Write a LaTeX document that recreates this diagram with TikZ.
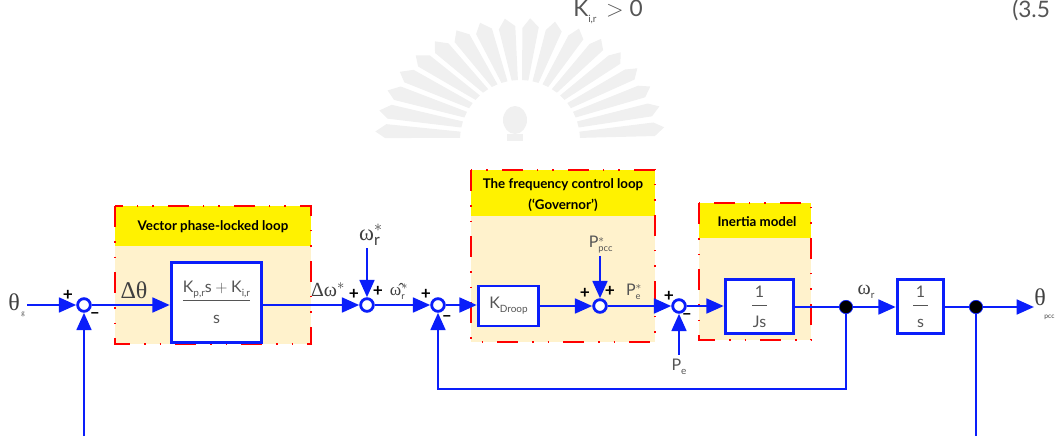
\documentclass[tikz,border=0pt]{standalone}
\usepackage{amsmath}
\usepackage{fontspec}
\setmainfont{Lato}
\newfontfamily\greekfont{Liberation Serif}
\usepackage{xcolor}
\usetikzlibrary{arrows.meta, calc}
\definecolor{flowblue}{HTML}{0A1EFA}
\definecolor{panelcream}{HTML}{FFF2CC}
\definecolor{labelgray}{HTML}{555555}
\newcommand{\subtiny}[1]{\raisebox{-0.5ex}{\fontsize{7.5}{8}\selectfont\rmfamily #1}}
\newcommand{\starsub}[1]{$^{*}_{\text{\fontsize{7}{8}\selectfont\rmfamily #1}}$}
\tikzset{
    flow/.style={draw=flowblue, line width=2.1pt, -{Triangle[length=13pt, width=11pt]}},
    wire/.style={draw=flowblue, line width=2.1pt},
    sumpoint/.style={circle, draw=flowblue, fill=white, line width=2.1pt, minimum size=9.5pt, inner sep=0pt},
    tappoint/.style={circle, draw=flowblue, fill=black, line width=0.5pt, minimum size=10pt, inner sep=0pt},
    blockbox/.style={draw=flowblue, fill=white, line width=2.1pt, inner sep=0pt, text=labelgray, font=\fontsize{12}{14}\selectfont},
    panelline/.style={draw=red, line width=1.9pt, dash pattern=on 16pt off 10.5pt on 1pt off 10.5pt on 1pt off 10.5pt},
    paneltitle/.style={inner sep=0pt, align=center, font=\fontsize{10}{16}\selectfont\bfseries},
    signmark/.style={inner sep=0pt, font=\fontsize{13}{13}\selectfont\bfseries},
    tag/.style={inner sep=0pt, text=labelgray, font=\fontsize{12}{14}\selectfont},
    bigtag/.style={inner sep=0pt, text=black!75, font=\fontsize{18}{20}\selectfont\greekfont},
    midtag/.style={inner sep=0pt, text=black!75, font=\fontsize{15}{17}\selectfont\greekfont},
    crest/.style={fill=black!6},
}
\begin{document}
\begin{tikzpicture}[x=0.75pt, y=-0.75pt]
    \useasboundingbox (0,0) rectangle (1057,436);

    % 1. Faint crest behind the top of the page
    \coordinate (W) at (520,140);
    \begin{scope}
        \clip (350,0) rectangle (690,141);
        \foreach \ang in {185,195,...,355} {
            \fill[crest] ($(W)+(\ang-3:60)$) -- ($(W)+(\ang-4:135 and 112)$) -- ($(W)+(\ang-1:145 and 122)$) -- ($(W)+(\ang+3:135 and 114)$) -- ($(W)+(\ang+3:60)$) -- cycle;
        }
        \fill[crest] (515,120) ellipse (12 and 14);
        \fill[crest] (507,134) rectangle (523,141);
    \end{scope}

    % 2. Text line above the diagram
    \node[tag, font=\fontsize{17}{19}\selectfont] (gainCond) at (608,12) {K\subtiny{i,r}\, $>$ 0};
    \node[tag, font=\fontsize{17}{19}\selectfont, anchor=west] (eqNum) at (1012,10) {(3.5};

    % 3. Panels: cream body, yellow head, red outline
    \foreach \xa/\ya/\xb/\yb/\ym in {115/206/311/344/246, 471/170/655/342/216, 699/203/811/340/238} {
        \fill[panelcream] (\xa,\ya) rectangle (\xb,\yb);
        \fill[yellow] (\xa,\ya) rectangle (\xb,\ym);
        \draw[panelline] (\xa,\ya) rectangle (\xb,\yb);
    }
    \node[paneltitle] (titlePll) at (213,227) {Vector phase-locked loop};
    \node[paneltitle] (titleGov) at (563,195) {The frequency control loop\\(`Governor')};
    \node[paneltitle] (titleIner) at (757,222) {Inertia model};

    % 4. Summing points, take-off points and blocks
    \node[sumpoint] (sumA) at (84,305) {};
    \node[sumpoint] (sumB) at (367,305) {};
    \node[sumpoint] (sumC) at (438,305) {};
    \node[sumpoint] (sumD) at (600,306) {};
    \node[sumpoint] (sumE) at (679,306) {};
    \node[tappoint] (tapA) at (846,307) {};
    \node[tappoint] (tapB) at (976,307) {};

    \node[blockbox, minimum width=68pt, minimum height=60.5pt] (blockPll) at (216.5,302.5)
        {$\dfrac{\rule[-3pt]{0pt}{3pt}\text{K\subtiny{p,r}s}+\text{K\subtiny{i,r}}}{\rule{0pt}{16pt}\text{s}}$};
    \node[blockbox, minimum width=45.5pt, minimum height=30pt] (blockDroop) at (508.5,306)
        {K\subtiny{Droop}};
    \node[blockbox, minimum width=51.5pt, minimum height=41pt] (blockJs) at (759.5,306.5)
        {$\dfrac{\rule[-4pt]{0pt}{4pt}\,\text{1}\,}{\rule{0pt}{15pt}\text{Js}}$};
    \node[blockbox, minimum width=35pt, minimum height=41pt] (blockInt) at (920.5,306.5)
        {$\dfrac{\rule[-4pt]{0pt}{4pt}\,\text{1}\,}{\rule{0pt}{15pt}\text{s}}$};

    % 5. Signal names
    \node[bigtag] (inTheta) at (14,302) {θ};
    \node[tag, font=\fontsize{5}{6}\selectfont] (inThetaSub) at (23,314) {g};
    \node[bigtag] (errTheta) at (134,290) {Δθ};
    \node[midtag] (errOmega) at (328,290) {Δω$^{*}$};
    \node[midtag, font=\fontsize{17}{19}\selectfont\greekfont] (refOmega) at (371,235) {ω$^{*}_{\mathrm{r}}$};
    \node[midtag, font=\fontsize{13}{15}\selectfont\greekfont] (estOmega) at (399,291) {ω̂\starsub{r}};
    \node[tag] (refPower) at (601,245) {P\starsub{pcc}};
    \node[tag] (estPower) at (634,292) {P\starsub{e}};
    \node[tag] (meaPower) at (679,367) {P\subtiny{e}};
    \node[midtag] (outOmega) at (866,292) {ω\subtiny{r}};
    \node[bigtag, anchor=west] (outTheta) at (1034,304) {θ\hspace{-1pt}\raisebox{-1.2ex}{\fontsize{5}{6}\selectfont\rmfamily pcc}};

    % 6. Signs beside the summing points
    \foreach \nm/\sgn/\sx/\sy in {
        a/+/68/295, b/--/95/316,
        c/+/354/294, d/+/378/291,
        e/+/426/294, f/--/447/319,
        g/+/585/293, h/+/610/291,
        i/+/669/296, j/--/687/317%
    } {
        \node[signmark] (sign\nm) at (\sx,\sy) {\sgn};
    }

    % 7. Forward path
    \draw[flow] (inTheta.east |- sumA) ++(7,0) coordinate (inStart) -- (sumA);
    \draw[flow] (sumA) -- (sumA -| blockPll.west);
    \draw[flow] (blockPll.east |- sumB) -- (sumB);
    \draw[flow] (sumB) -- (sumC);
    \draw[flow] (sumC) -- (sumC -| blockDroop.west);
    \draw[flow] (blockDroop.east |- sumD) -- (sumD);
    \draw[flow] (sumD) -- (sumE);
    \draw[flow] (sumE) -- (sumE -| blockJs.west);
    \draw[wire] (tapA -| blockJs.east) -- (tapA);
    \draw[flow] (tapA) -- (tapA -| blockInt.west);
    \draw[wire] (tapB -| blockInt.east) -- (tapB);
    \draw[flow] (tapB) -- (tapB -| outTheta.west);

    % 8. Set points coming in from above and below
    \draw[flow] (sumB |- refOmega.south) ++(0,2) -- (sumB);
    \draw[flow] (sumD |- refPower.south) ++(0,2) -- (sumD);
    \draw[flow] (sumE |- meaPower.north) ++(0,-4) -- (sumE);

    % 9. Feedback paths
    \coordinate (fbkA) at (84,436);
    \coordinate (fbkB) at (976,436);
    \coordinate (fbkC) at (640,389);
    \draw[flow] (fbkA) -- (sumA);
    \draw[wire] (tapB) -- (fbkB);
    \draw[flow] (tapA) -- (tapA |- fbkC) -- (sumC |- fbkC) -- (sumC);
\end{tikzpicture}
\end{document}
